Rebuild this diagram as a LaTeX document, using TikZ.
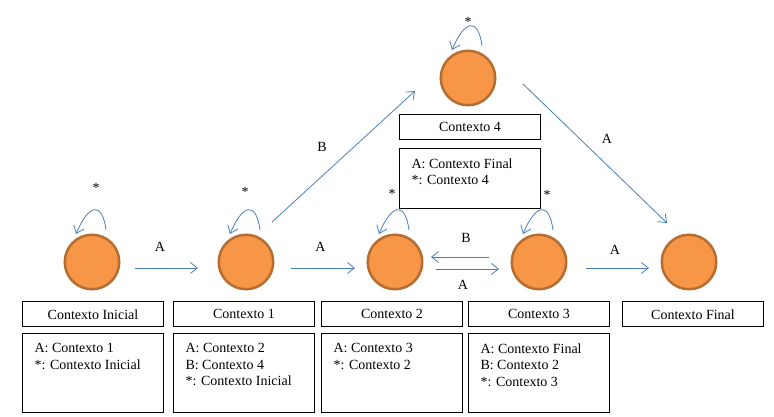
\documentclass[tikz,border=0pt]{standalone}
\usepackage{fontspec}
\setmainfont{Liberation Serif}
\usepackage{tikz}
\usetikzlibrary{positioning, arrows.meta}
\definecolor{ctxorange}{RGB}{247,150,70}
\definecolor{ctxbrown}{RGB}{182,109,49}
\definecolor{ctxblue}{RGB}{74,126,187}
\tikzstyle{ctx}=[%
      circle, fill=ctxorange, draw=ctxbrown, line width=2.5pt,
      minimum size=54.5pt, inner sep=0pt
]
\tikzstyle{ctxname}=[%
      rectangle, draw=black, line width=0.8pt,
      minimum width=141pt, minimum height=25pt, inner sep=0pt
]
\tikzstyle{ctxlist}=[%
      rectangle, draw=black, line width=0.8pt, inner xsep=12pt, inner ysep=10pt
]
\tikzstyle{conn}=[%
      draw=ctxblue, line width=0.8pt, -{Straight Barb[length=7pt,width=11pt]}
]
\tikzstyle{lbl}=[inner sep=0pt]
\newcommand{\ctxbox}[2]{\parbox[t][#1][t]{117pt}{#2}}

\begin{document}
\begin{tikzpicture}[x=1pt, y=1pt,
    font=\fontsize{14}{16.5}\selectfont
  ]
    \useasboundingbox (0,0) rectangle (774,417);

    \node[ctx] (c0) at (92,155)  {};
    \node[ctx] (c1) at (246,155) {};
    \node[ctx] (c2) at (395,155) {};
    \node[ctx] (c3) at (539,155) {};
    \node[ctx] (cf) at (689,155) {};
    \node[ctx] (c4) at (468,339) {};

    \node[ctxname, below=11pt of c0, xshift=1pt]  (n0) {Contexto Inicial};
    \node[ctxname, below=11pt of c1, xshift=-2pt] (n1) {Contexto 1};
    \node[ctxname, below=11pt of c2, xshift=-3pt] (n2) {Contexto 2};
    \node[ctxname, below=11pt of c3]              (n3) {Contexto 3};
    \node[ctxname, below=11pt of cf, xshift=4pt]  (nf) {Contexto Final};
    \node[ctxname, below=8pt of c4, xshift=2pt]   (n4) {Contexto 4};

    \node[ctxlist, below=6pt of n0] (l0) {\ctxbox{59pt}{A: Contexto 1\\{}*: Contexto Inicial}};
    \node[ctxlist, below=6pt of n1] (l1) {\ctxbox{59pt}{A: Contexto 2\\B: Contexto 4\\{}*: Contexto Inicial}};
    \node[ctxlist, below=6pt of n2] (l2) {\ctxbox{59pt}{A: Contexto 3\\{}*: Contexto 2}};
    \node[ctxlist, below=6pt of n3] (l3) {\ctxbox{59pt}{A: Contexto Final\\B: Contexto 2\\{}*: Contexto 3}};
    \node[ctxlist, below=8pt of n4] (l4) {\ctxbox{40pt}{A: Contexto Final\\{}*: Contexto 4}};

    \path ([yshift=-6pt]c0.east) edge[conn, shorten <=14.5pt, shorten >=19.5pt]
              node[lbl, xshift=-9pt, yshift=21pt] {A} ([yshift=-6pt]c1.west)
          ([yshift=-6pt]c1.east) edge[conn, shorten <=16.5pt, shorten >=11.5pt]
              node[lbl, yshift=21pt] {A} ([yshift=-6pt]c2.west)
          ([yshift=-7pt]c2.east) edge[conn, shorten <=12.5pt, shorten >=11.5pt]
              node[lbl, xshift=-4pt, yshift=-16pt] {A} ([yshift=-7pt]c3.west)
          ([yshift=5pt]c3.west) edge[conn, shorten <=21.5pt, shorten >=7.5pt]
              node[lbl, xshift=-1pt, yshift=19pt] {B} ([yshift=5pt]c2.east)
          ([yshift=-6pt]c3.east) edge[conn, shorten <=18.5pt, shorten >=11.5pt]
              node[lbl, xshift=1pt, yshift=18pt] {A} ([yshift=-6pt]cf.west)
          ([shift={(26,40)}]c1.center) edge[conn]
              node[lbl, xshift=-21.5pt, yshift=9.5pt] {B} ([shift={(-53,-13)}]c4.center)
          ([shift={(55,-6)}]c4.center) edge[conn]
              node[lbl, xshift=12pt, yshift=14.5pt] {A} ([shift={(-22,39)}]cf.center)
    ;

    % self loops
    \foreach \c/\lx/\ly in {c0/4/74, c1/-1/70, c2/-3/68, c3/8/67, c4/0/56}
      \draw[conn] ([shift={(14,32)}]\c.center) .. controls +(-4,30) and +(12,29) .. ([shift={(-16,28)}]\c.center)
          node[lbl] at ([shift={(\lx,\ly)}]\c.center) {*};

  \end{tikzpicture}
\end{document}
